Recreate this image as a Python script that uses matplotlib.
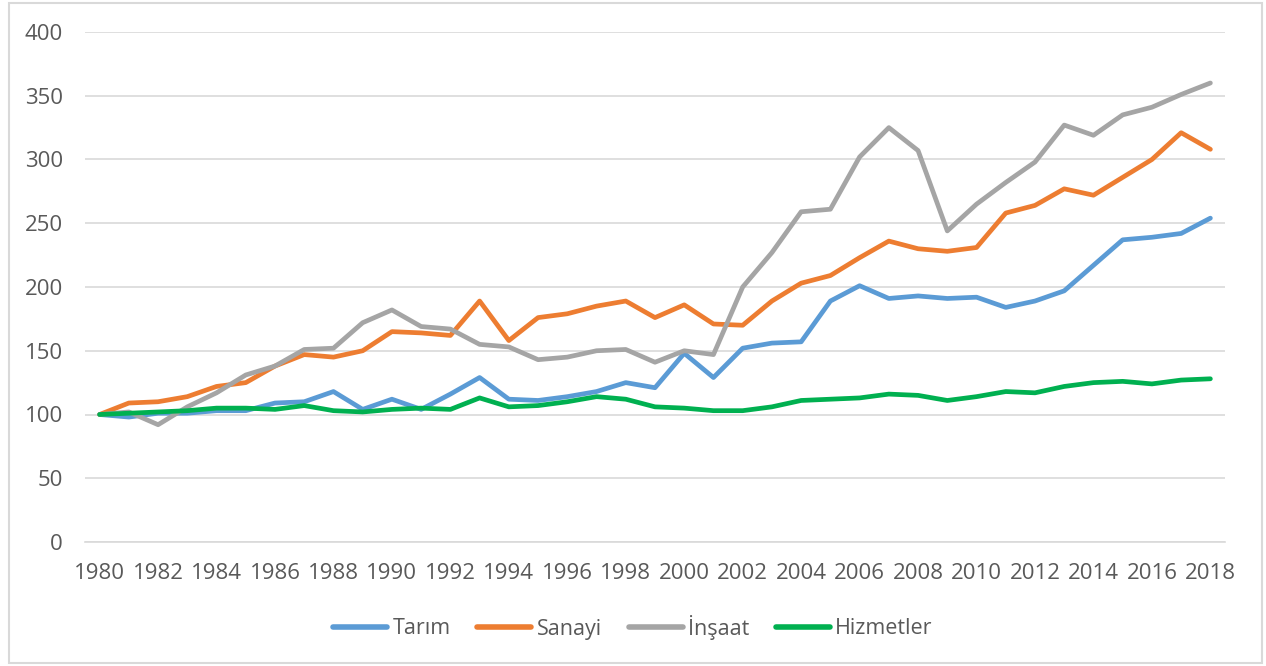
import matplotlib.pyplot as plt
from matplotlib.patches import Rectangle

years = list(range(1980, 2019))

tarim = [100, 98, 101, 101, 103, 103, 109, 110, 118, 104,
         112, 104, 116, 129, 112, 111, 114, 118, 125, 121,
         148, 129, 152, 156, 157, 189, 201, 191, 193, 191,
         192, 184, 189, 197, 217, 237, 239, 242, 254]

sanayi = [100, 109, 110, 114, 122, 125, 138, 147, 145, 150,
          165, 164, 162, 189, 158, 176, 179, 185, 189, 176,
          186, 171, 170, 189, 203, 209, 223, 236, 230, 228,
          231, 258, 264, 277, 272, 286, 300, 321, 308]

insaat = [100, 102, 92, 106, 117, 131, 138, 151, 152, 172,
          182, 169, 167, 155, 153, 143, 145, 150, 151, 141,
          150, 147, 200, 227, 259, 261, 302, 325, 307, 244,
          265, 282, 298, 327, 319, 335, 341, 351, 360]

hizmetler = [100, 101, 102, 103, 105, 105, 104, 107, 103, 102,
             104, 105, 104, 113, 106, 107, 110, 114, 112, 106,
             105, 103, 103, 106, 111, 112, 113, 116, 115, 111,
             114, 118, 117, 122, 125, 126, 124, 127, 128]

series_names = ['Tarım', 'Sanayi', 'İnşaat', 'Hizmetler']
series_colors = ['#5B9BD5', '#ED7D31', '#A5A5A5', '#00B050']

plt.rcParams['font.family'] = ['Open Sans', 'DejaVu Sans']

W, H = 1266, 666
fig = plt.figure(figsize=(W / 100, H / 100), dpi=100)
ax = fig.add_axes([85 / W, 1 - 542 / H, 1140 / W, 510 / H])

for vals, name, col in zip([tarim, sanayi, insaat, hizmetler], series_names, series_colors):
    ax.plot(years, vals, color=col, lw=3.4, label=name,
            solid_capstyle='round', solid_joinstyle='round')

ax.set_xlim(1979.5, 2018.5)
ax.set_ylim(0, 400)
ax.set_yticks(range(0, 401, 50))
ax.set_xticks(range(1980, 2019, 2))
ax.grid(axis='y', color='#D9D9D9', lw=1.2)
ax.set_axisbelow(True)
for s in ['top', 'right', 'left']:
    ax.spines[s].set_visible(False)
ax.spines['bottom'].set_color('#D9D9D9')
ax.spines['bottom'].set_linewidth(1.2)
ax.tick_params(axis='both', length=0, labelsize=16, colors='#595959')
ax.tick_params(axis='y', pad=16)
ax.tick_params(axis='x', pad=15)

leg = fig.legend(loc='center', bbox_to_anchor=(0.5, 1 - 627 / H), ncol=4, frameon=False,
                 fontsize=15.5, handlelength=2.5, handletextpad=0.25, columnspacing=1.25)
for t in leg.get_texts():
    t.set_color('#595959')
for h in leg.get_lines():
    h.set_linewidth(4)

border = Rectangle((9 / W, 3 / H), (1262 - 9) / W, (663 - 3) / H, transform=fig.transFigure,
                   fill=False, edgecolor='#D9D9D9', lw=1.5)
fig.patches.append(border)

fig.savefig('out.png', dpi=100)
